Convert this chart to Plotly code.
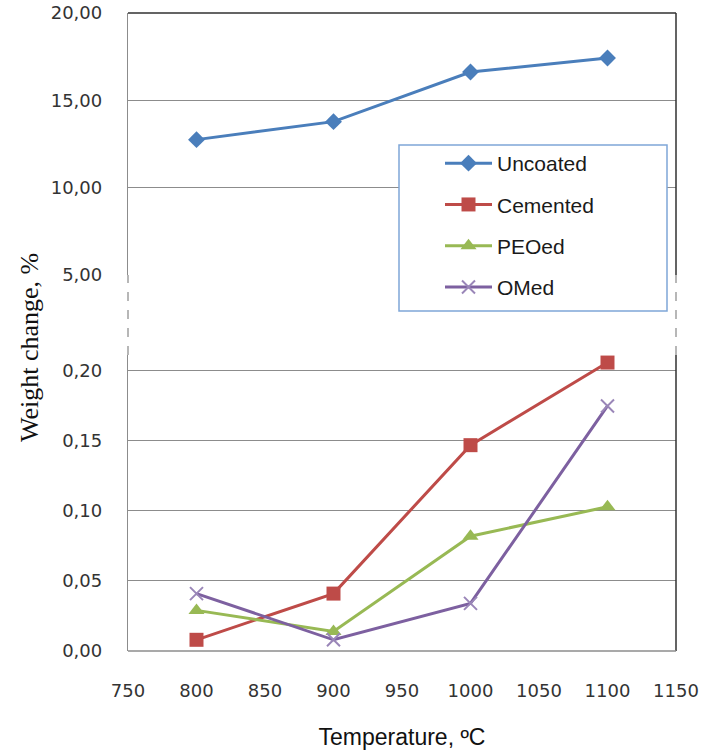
import plotly.graph_objects as go

temps = [800, 900, 1000, 1100]
uncoated = [12.75, 13.78, 16.62, 17.42]
cemented = [0.008, 0.041, 0.147, 0.206]
peoed = [0.029, 0.014, 0.082, 0.103]
omed = [0.041, 0.008, 0.034, 0.175]

top_ticks = [5, 10, 15, 20]
top_labels = ["5,00", "10,00", "15,00", "20,00"]
bot_ticks = [0, 0.05, 0.10, 0.15, 0.20]
bot_labels = ["0,00", "0,05", "0,10", "0,15", "0,20"]
x_ticks = [750, 800, 850, 900, 950, 1000, 1050, 1100, 1150]

W, H = 702, 751
L, R, T, B = 128, 26, 13, 100
ph = H - T - B
pw = W - L - R

def py(y):
    return (H - B - y) / ph

def px(x):
    return (x - L) / pw

top_dom = [py(275), 1.0]
bot_dom = [0.0, py(355)]

tick_font = dict(family="DejaVu Sans, Verdana, sans-serif", size=18, color="#333333")
sans = "Liberation Sans, Arial, sans-serif"

fig = go.Figure()
fig.add_trace(go.Scatter(x=temps, y=uncoated, name="Uncoated", mode="lines+markers",
                         line=dict(color="#4A7EBB", width=3),
                         marker=dict(symbol="diamond", size=13, color="#4A7EBB"),
                         xaxis="x2", yaxis="y2", legendgroup="a"))
fig.add_trace(go.Scatter(x=temps, y=cemented, name="Cemented", mode="lines+markers",
                         line=dict(color="#BE4B48", width=3),
                         marker=dict(symbol="square", size=14, color="#BE4B48"),
                         legendgroup="b"))
fig.add_trace(go.Scatter(x=temps, y=peoed, name="PEOed", mode="lines+markers",
                         line=dict(color="#98B954", width=3),
                         marker=dict(symbol="triangle-up", size=14, color="#98B954"),
                         legendgroup="c"))
fig.add_trace(go.Scatter(x=temps, y=omed, name="OMed", mode="lines+markers",
                         line=dict(color="#7D60A0", width=3),
                         marker=dict(symbol="x-thin", size=13,
                                     line=dict(color="#9A86B8", width=2)),
                         legendgroup="d"))

grid = "#8C8C8C"
fig.update_layout(
    width=W, height=H,
    margin=dict(l=L, r=R, t=T, b=B),
    paper_bgcolor="white", plot_bgcolor="white",
    showlegend=True,
    legend=dict(x=px(440), y=py(143), xanchor="left", yanchor="top",
                bgcolor="rgba(0,0,0,0)", borderwidth=0,
                font=dict(family=sans, size=21, color="#1a1a1a"),
                itemwidth=47, tracegroupgap=11),
    xaxis=dict(domain=[0, 1], range=[750, 1150], tickvals=x_ticks,
               ticktext=[str(v) for v in x_ticks], tickfont=tick_font,
               showgrid=False, zeroline=False, showline=False, ticks="",
               anchor="y", ticklabelstandoff=27, automargin=False,
               title=dict(text="Temperature, ºC", standoff=28,
                          font=dict(family=sans, size=23, color="#111111"))),
    yaxis=dict(domain=bot_dom, range=[0, 0.2114], tickvals=bot_ticks, ticktext=bot_labels,
               tickfont=tick_font, showgrid=True, gridcolor=grid, gridwidth=1.3,
               zeroline=False, showline=True, linecolor=grid, linewidth=1.3, ticks="",
               ticklabelstandoff=21, anchor="x", automargin=False),
    xaxis2=dict(domain=[0, 1], range=[750, 1150], showticklabels=False, showgrid=False,
                zeroline=False, showline=False, anchor="y2", matches="x", automargin=False),
    yaxis2=dict(domain=top_dom, range=[5, 20], tickvals=top_ticks, ticktext=top_labels,
                tickfont=tick_font, showgrid=True, gridcolor=grid, gridwidth=1.3,
                zeroline=False, showline=True, linecolor=grid, linewidth=1.3, ticks="",
                ticklabelstandoff=21, anchor="x2", automargin=False),
    annotations=[dict(text="Weight change, %", xref="paper", yref="paper",
                      x=px(29), y=py(348), textangle=-90, showarrow=False,
                      xanchor="center", yanchor="middle",
                      font=dict(family="Liberation Serif, Times New Roman, serif", size=26, color="#111111"))],
)

shapes = []
shapes.append(dict(type="line", xref="paper", yref="paper", x0=0, x1=1, y0=1, y1=1,
                   line=dict(color="#303030", width=1.5)))
shapes.append(dict(type="line", xref="paper", yref="paper", x0=1, x1=1, y0=top_dom[0], y1=1,
                   line=dict(color="#303030", width=1.5)))
shapes.append(dict(type="line", xref="paper", yref="paper", x0=1, x1=1, y0=0, y1=bot_dom[1],
                   line=dict(color="#303030", width=1.5)))
shapes.append(dict(type="line", xref="paper", yref="paper", x0=0, x1=1, y0=0, y1=0,
                   line=dict(color=grid, width=1.5)))
for xx in (0, 1):
    shapes.append(dict(type="line", xref="paper", yref="paper", x0=xx, x1=xx,
                       y0=bot_dom[1], y1=top_dom[0],
                       line=dict(color="#A0A0A0", width=1.5, dash="dash")))
shapes.append(dict(type="rect", xref="paper", yref="paper", x0=px(399), x1=px(667),
                   y0=py(311), y1=py(145), fillcolor="white",
                   line=dict(color="#7FA6D8", width=1.5), layer="above"))
fig.update_layout(shapes=shapes)

fig.write_html("out.html", config={"displayModeBar": False},
               post_script="document.body.style.margin='0';")
